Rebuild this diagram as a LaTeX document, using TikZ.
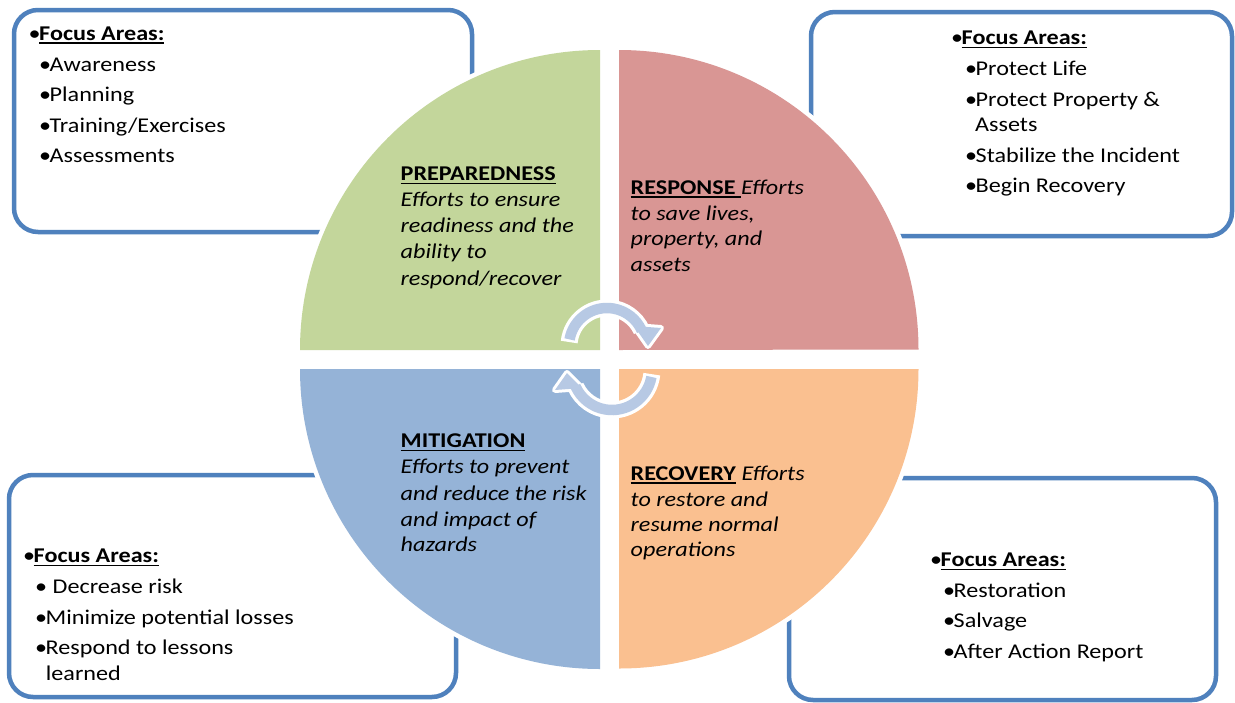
\documentclass[tikz,border=0pt]{standalone}
\usepackage{fontspec}
\setmainfont{Carlito}[FakeStretch=1.15]
\newsavebox{\myulbox}
\newcommand{\myul}[1]{\sbox{\myulbox}{#1}\rlap{\rule[-3.6pt]{\wd\myulbox}{1.4pt}}\usebox{\myulbox}}
\newcommand{\mybul}{•\kern-1.5pt}
\definecolor{boxblue}{RGB}{79,129,189}
\definecolor{qgreen}{RGB}{195,214,155}
\definecolor{qred}{RGB}{217,150,148}
\definecolor{qblue}{RGB}{149,179,215}
\definecolor{qorange}{RGB}{250,192,144}
\definecolor{arrowfill}{RGB}{183,201,228}
\begin{document}
\begin{tikzpicture}[x=1pt,y=-1pt,
  fbox/.style={draw=boxblue, line width=4.5pt, rounded corners=24pt, fill=white},
  qoutline/.style={draw=white, line width=9pt, line join=round},
  lbl/.style={anchor=base west, inner sep=0pt, font=\fontsize{21}{26}\selectfont},
  ilbl/.style={lbl, font=\fontsize{21}{26}\selectfont\itshape},
  arrw/.style={draw=white, line width=17pt},
  arrc/.style={draw=arrowfill, line width=10.5pt},
  headw/.style={draw=white, fill=white, line width=6pt, line join=round},
  headc/.style={fill=arrowfill}
]
\useasboundingbox (0,0) rectangle (1235,702);
\fill[white] (0,0) rectangle (1235,702);

% focus boxes
\draw[fbox] (14,10) rectangle (472,232);
\draw[fbox] (811,12) rectangle (1232,236);
\draw[fbox] (9,475) rectangle (456,697);
\draw[fbox] (789,478) rectangle (1216,700);

% quadrant outlines
\path[qoutline] (600,350) -- (300,350) arc[start angle=180, end angle=270, radius=300] -- cycle;
\path[qoutline] (619,350) -- (619,50) arc[start angle=270, end angle=360, radius=299.5] -- cycle;
\path[qoutline] (619,369) -- (918.5,369) arc[start angle=0, end angle=90, radius=299.5] -- cycle;
\path[qoutline] (600,369) -- (600,669) arc[start angle=90, end angle=180, radius=300] -- cycle;
% quadrants
\fill[qgreen] (600,350) -- (300,350) arc[start angle=180, end angle=270, radius=300] -- cycle;
\fill[qred] (619,350) -- (619,50) arc[start angle=270, end angle=360, radius=299.5] -- cycle;
\fill[qorange] (619,369) -- (918.5,369) arc[start angle=0, end angle=90, radius=299.5] -- cycle;
\fill[qblue] (600,369) -- (600,669) arc[start angle=90, end angle=180, radius=300] -- cycle;

% centre cycle arrows
\coordinate (cu) at (607,346);
\coordinate (cl) at (612,370);
\path[arrw] (cu) ++(186:38) arc[start angle=186, end angle=335, radius=38];
\path[headw] (634,326) -- (661,328) -- (648,346) -- cycle;
\path[arrw] (cl) ++(6:40) arc[start angle=6, end angle=155, radius=40];
\path[headw] (582,388) -- (555,390) -- (567,373) -- cycle;
\path[arrc] (cu) ++(190:38) arc[start angle=190, end angle=336, radius=38];
\path[headc] (634,326) -- (661,328) -- (648,346) -- cycle;
\path[arrc] (cl) ++(10:40) arc[start angle=10, end angle=156, radius=40];
\path[headc] (582,388) -- (555,390) -- (567,373) -- cycle;

% top-left box text
\node[lbl] (tl0) at (28.5,40) {\mybul\myul{\textbf{Focus Areas:}}};
\node[lbl] (tl1) at (39,71) {\mybul Awareness};
\node[lbl] (tl2) at (39,101.7) {\mybul Planning};
\node[lbl] (tl3) at (39,132) {\mybul Training/Exercises};
\node[lbl] (tl4) at (39,162.7) {\mybul Assessments};

% top-right box text
\node[lbl] (tr0) at (951,44.3) {\mybul\myul{\textbf{Focus Areas:}}};
\node[lbl] (tr1) at (965,75) {\mybul Protect Life};
\node[lbl] (tr2) at (965,106) {\mybul Protect Property \&};
\node[lbl] (tr3) at (975,131.7) {Assets};
\node[lbl] (tr4) at (965,162.7) {\mybul Stabilize the Incident};
\node[lbl] (tr5) at (965,192.7) {\mybul Begin Recovery};

% bottom-left box text
\node[lbl] (bl0) at (23,562.7) {\mybul\myul{\textbf{Focus Areas:}}};
\node[lbl] (bl1) at (35,593.3) {• Decrease risk};
\node[lbl] (bl2) at (35,624.3) {\mybul Minimize potential losses};
\node[lbl] (bl3) at (35,654) {\mybul Respond to lessons};
\node[lbl] (bl4) at (45.7,680.7) {learned};

% bottom-right box text
\node[lbl] (br0) at (930,566.7) {\mybul\myul{\textbf{Focus Areas:}}};
\node[lbl] (br1) at (943,597.7) {\mybul Restoration};
\node[lbl] (br2) at (943,627.3) {\mybul Salvage};
\node[lbl] (br3) at (943,658.3) {\mybul After Action Report};

% preparedness
\node[lbl] (p0) at (400.5,180.7) {\myul{\textbf{PREPAREDNESS}}};
\node[ilbl] (p1) at (400.5,206.7) {Efforts to ensure};
\node[ilbl] (p2) at (400.5,232.3) {readiness and the};
\node[ilbl] (p3) at (400.5,258.3) {ability to};
\node[ilbl] (p4) at (400.5,285) {respond/recover};

% response
\node[lbl] (r0) at (630.5,194) {\myul{\textbf{RESPONSE}\ }\textit{Efforts}};
\node[ilbl] (r1) at (630.5,220) {to save lives,};
\node[ilbl] (r2) at (630.5,245.7) {property, and};
\node[ilbl] (r3) at (630.5,271.7) {assets};

% mitigation
\node[lbl] (m0) at (400.5,447.3) {\myul{\textbf{MITIGATION}}};
\node[ilbl] (m1) at (400.5,473.3) {Efforts to prevent};
\node[ilbl] (m2) at (400.5,500) {and reduce the risk};
\node[ilbl] (m3) at (400.5,526) {and impact of};
\node[ilbl] (m4) at (400.5,551) {hazards};

% recovery
\node[lbl] (c0) at (630.5,480) {\myul{\textbf{RECOVERY}} \textit{Efforts}};
\node[ilbl] (c1) at (630.5,506) {to restore and};
\node[ilbl] (c2) at (630.5,531.7) {resume normal};
\node[ilbl] (c3) at (630.5,556.7) {operations};
\end{tikzpicture}
\end{document}
